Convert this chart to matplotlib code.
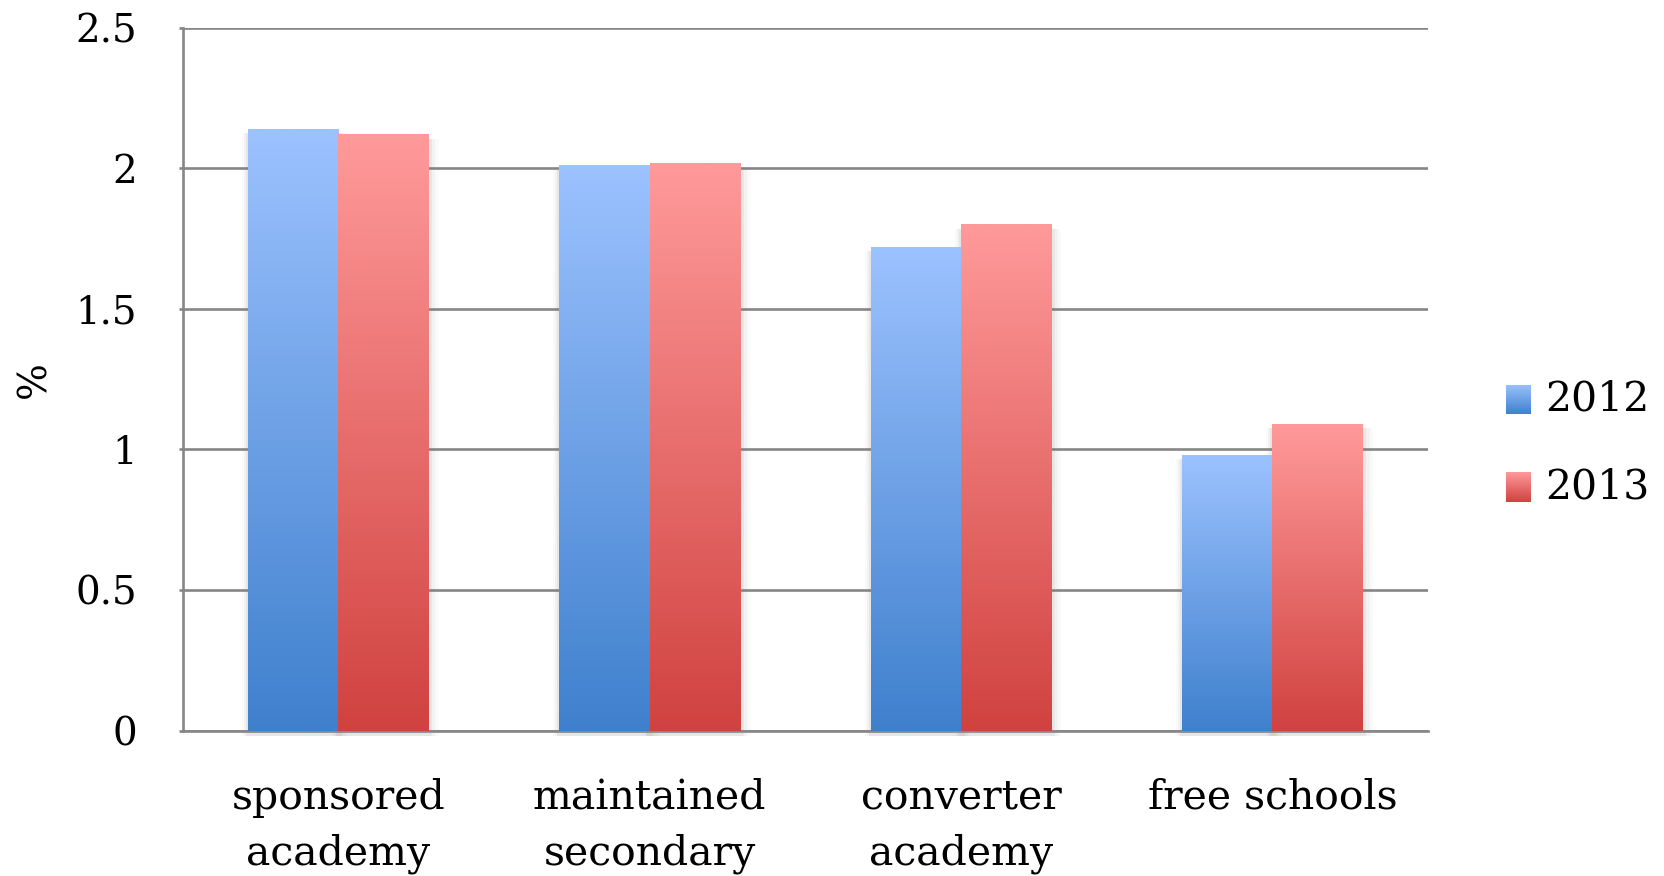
import matplotlib
matplotlib.use('Agg')
import matplotlib.pyplot as plt
import matplotlib.patches as mpatches
from matplotlib.colors import LinearSegmentedColormap
import numpy as np

categories = ['sponsored\nacademy', 'maintained\nsecondary', 'converter\nacademy', 'free schools']
years = ['2012', '2013']
values_2012 = [2.14, 2.01, 1.72, 0.98]
values_2013 = [2.12, 2.02, 1.80, 1.09]
y_ticks = [0, 0.5, 1, 1.5, 2, 2.5]
y_tick_labels = ['0', '0.5', '1', '1.5', '2', '2.5']

# gradient colours per series: (top, bottom)
grad_colors = {
    '2012': ('#9cc2ff', '#3f80cd'),
    '2013': ('#ff9a9a', '#d04240'),
}

plt.rcParams['font.family'] = ['DejaVu Serif']

fig = plt.figure(figsize=(16.65, 8.76), dpi=100)
ax = fig.add_axes([0.1097, 0.166, 0.748, 0.8024])

x = np.arange(len(categories))
width = 0.29
series = [values_2012, values_2013]
ramp = np.linspace(0, 1, 256).reshape(-1, 1)

for i, (yr, vals) in enumerate(zip(years, series)):
    top, bottom = grad_colors[yr]
    cmap = LinearSegmentedColormap.from_list('g' + yr, [bottom, top])
    bars = ax.bar(x + (i - 0.5) * width, vals, width, facecolor='none',
                  edgecolor='none', zorder=3)
    for b in bars:
        x0, w, h = b.get_x(), b.get_width(), b.get_height()
        # soft shadow around each bar
        for k, a in zip([0.012, 0.022, 0.032], [0.10, 0.06, 0.04]):
            ax.add_patch(mpatches.Rectangle((x0 - k * 0.6, -0.02), w + k * 1.6, h + 0.005,
                                            facecolor='#808080', edgecolor='none',
                                            alpha=a, zorder=2, clip_on=False))
        ax.imshow(ramp, cmap=cmap, origin='lower', aspect='auto',
                  extent=[x0, x0 + w, 0, h], zorder=3 + i, interpolation='bilinear')

ax.set_xlim(-0.5, len(categories) - 0.5)
ax.set_ylim(0, 2.5)
ax.set_yticks(y_ticks)
ax.set_yticklabels(y_tick_labels)
ax.set_xticks(x)
ax.set_xticklabels(categories, linespacing=1.5)

ax.grid(axis='y', color='#868686', linewidth=1.9, zorder=1)
ax.set_axisbelow(True)
for s in ['top', 'right']:
    ax.spines[s].set_visible(False)
for s in ['left', 'bottom']:
    ax.spines[s].set_color('#868686')
    ax.spines[s].set_linewidth(1.9)

ax.tick_params(axis='y', length=3, width=1.9, color='#868686', pad=30, labelsize=28)
ax.tick_params(axis='x', length=0, pad=34, labelsize=29.5)
ax.set_ylabel('%', fontsize=28)
ax.yaxis.set_label_coords(-0.104, 0.50)

# legend swatches with the same vertical gradient
for yr, ypos in zip(years, [0.527, 0.427]):
    top, bottom = grad_colors[yr]
    cmap = LinearSegmentedColormap.from_list('l' + yr, [bottom, top])
    sw = fig.add_axes([0.9045, ypos, 0.0150, 0.034])
    sw.imshow(ramp, cmap=cmap, origin='lower', aspect='auto')
    sw.axis('off')
    fig.text(0.928, ypos + 0.017, yr, fontsize=29.5, va='center', ha='left')

fig.savefig('out.png', dpi=100)
